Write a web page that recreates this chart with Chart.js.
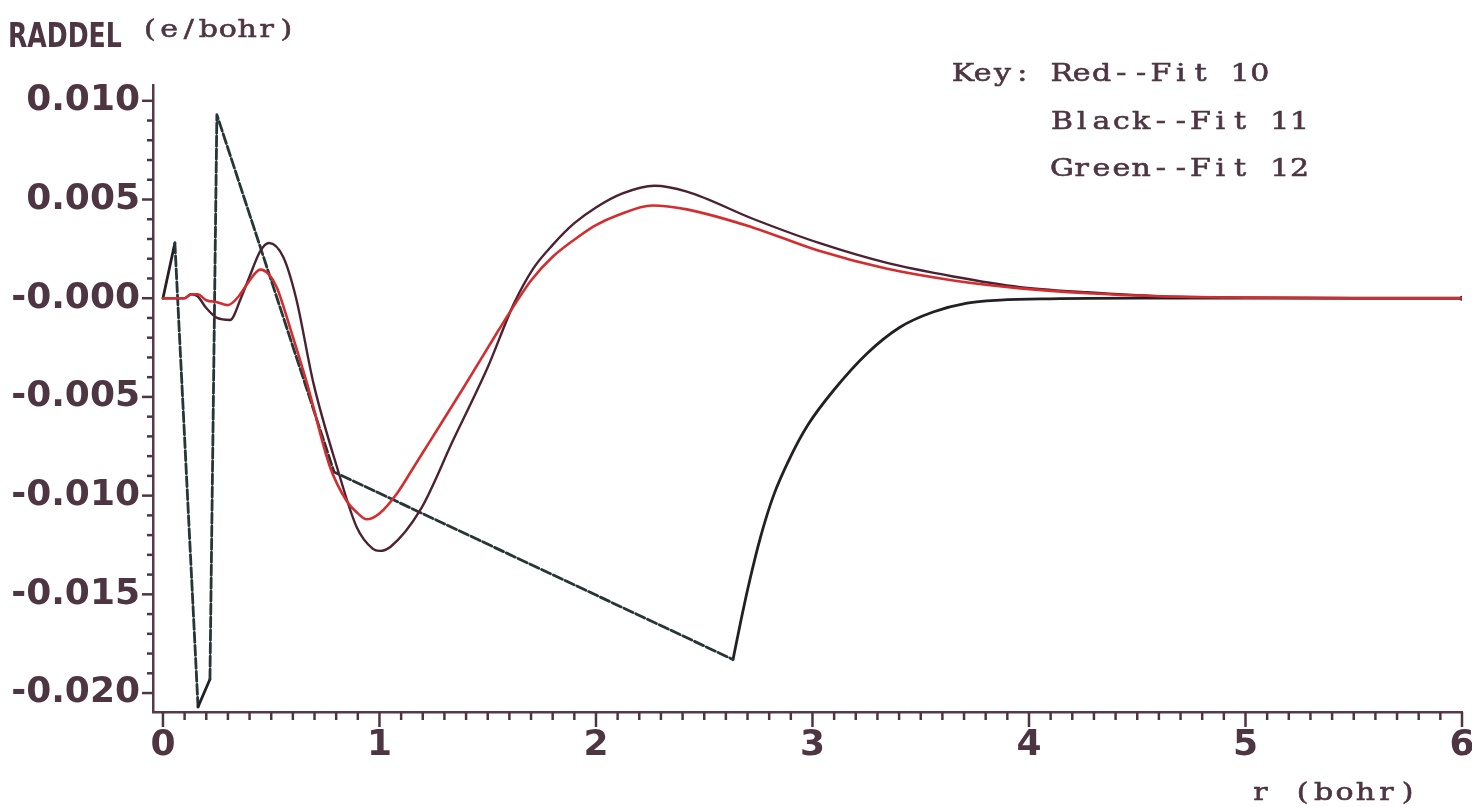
<!DOCTYPE html>
<html>
<head>
<meta charset="utf-8">
<title>RADDEL</title>
<script src="https://cdn.jsdelivr.net/npm/chart.js@4.4.1/dist/chart.umd.min.js"></script>
<style>
  html, body { margin: 0; padding: 0; background: #ffffff; }
  #wrap { width: 1472px; height: 807px; position: relative; }
  canvas { display: block; }
</style>
</head>
<body>
<div id="wrap"><canvas id="chart" width="1472" height="807"></canvas></div>
<script>
// Radial deformation density (RADDEL, e/bohr) versus r (bohr) for three fits.

// Fit 10 (red)
const rFit10 = [0, 0.05, 0.10, 0.13, 0.16, 0.20, 0.25, 0.30, 0.35, 0.39, 0.45, 0.49, 0.525, 0.59, 0.665,
  0.77, 0.85, 0.90, 0.94, 1.00, 1.08, 1.15, 1.23, 1.39, 1.54, 1.62, 1.70, 1.80, 1.93, 2.00, 2.10, 2.26, 2.42,
  2.72, 3.03, 3.34, 3.65, 3.96, 4.27, 4.60, 5.00, 5.50, 6.00];
const fit10 = [0, 0, 0, 0.0002, 0.0002, -0.0001, -0.0002, -0.00035, 0.0001, 0.00074, 0.00145, 0.0012, 0.00057,
  -0.0016, -0.0043, -0.0085, -0.0103, -0.0109, -0.0112, -0.0109, -0.0099, -0.0087, -0.0073, -0.0045, -0.0018,
  -0.0004, 0.0009, 0.0021, 0.0032, 0.0037, 0.0042, 0.0047, 0.0045, 0.0036, 0.0024, 0.0015, 0.0009, 0.0005,
  0.00025, 0.0001, 0.00003, 0, 0];

// Fit 11 (black)
const rFit11 = [0, 0.05, 0.10, 0.13, 0.16, 0.20, 0.25, 0.31, 0.36, 0.40, 0.45, 0.49, 0.555, 0.615, 0.695,
  0.805, 0.895, 0.97, 1.00, 1.05, 1.19, 1.34, 1.50, 1.62, 1.71, 1.80, 1.90, 2.00, 2.12, 2.27, 2.42, 2.73, 3.03,
  3.34, 3.65, 3.96, 4.27, 4.60, 5.00, 5.50, 6.00];
const fit11 = [0, 0, 0, 0.0002, 0.0001, -0.0005, -0.0010, -0.0011, 0.0000, 0.0011, 0.0024, 0.0028, 0.0021,
  0.0000, -0.0043, -0.0086, -0.0116, -0.0127, -0.0128, -0.0126, -0.0107, -0.0072, -0.0035, -0.0003, 0.0015,
  0.0027, 0.0038, 0.0046, 0.0053, 0.0057, 0.0054, 0.0040, 0.0028, 0.0018, 0.0011, 0.00056, 0.0003, 0.0001,
  0.00003, 0, 0];

// Fit 12 (green): coarse grid near the nucleus, finer grid in the outer tail
const rFit12 = [0, 0.055, 0.162, 0.217, 0.249, 0.79, 2.633];
const fit12 = [0, 0.0028, -0.0207, -0.0193, 0.0093, -0.0088, -0.0183];
const rFit12Tail = [2.633, 2.67, 2.71, 2.76, 2.82, 2.90, 2.98, 3.095, 3.252, 3.404, 3.557, 3.714, 3.866, 4.10,
  4.50, 5.00, 6.00];
const fit12Tail = [-0.0183, -0.0163, -0.0143, -0.0121, -0.0100, -0.0080, -0.0064, -0.0047, -0.0028, -0.00147,
  -0.0007, -0.00025, -0.0001, -0.00003, 0, 0, 0];

// Axis ticks
const xTicks = [0, 1, 2, 3, 4, 5, 6];
const yTicks = [-0.020, -0.015, -0.010, -0.005, 0.000, 0.005, 0.010];
const xMinorStep = 0.1;
const yMinorStep = 0.001;

const keyLines = ['Key: Red--Fit 10', '     Black--Fit 11', '     Green--Fit 12'];

const INK = '#4d3542';
const BOLD_FAMILY = "'DejaVu Sans', sans-serif";
const MONO_FAMILY = "'DejaVu Serif', serif";

const pts = (xs, ys) => xs.map((x, i) => ({ x: x, y: ys[i] }));

function longSeg(ctx) {
  return Math.hypot(ctx.p1.x - ctx.p0.x, ctx.p1.y - ctx.p0.y) > 200;
}

// typewriter-style fixed-pitch text, each glyph widened to fill its cell
function monoText(ctx, str, x, baseline, pitch, widen) {
  ctx.textAlign = 'center';
  ctx.textBaseline = 'alphabetic';
  ctx.lineWidth = 0.6;
  ctx.strokeStyle = ctx.fillStyle;
  for (let i = 0; i < str.length; i++) {
    if (str[i] === ' ') continue;
    ctx.save();
    ctx.translate(x + i * pitch + pitch / 2, baseline);
    ctx.scale(widen, 1);
    ctx.fillText(str[i], 0, 0);
    ctx.strokeText(str[i], 0, 0);
    ctx.restore();
  }
}

const axisDecor = {
  id: 'axisDecor',
  afterDraw(chart) {
    const ctx = chart.ctx;
    const xs = chart.scales.x, ys = chart.scales.y;
    const area = chart.chartArea;
    ctx.save();
    ctx.strokeStyle = INK;
    ctx.lineWidth = 2.5;
    ctx.lineCap = 'butt';
    // x ticks hang below the axis
    const xn = Math.round((xTicks[xTicks.length - 1] - xTicks[0]) / xMinorStep);
    for (let i = 0; i <= xn; i++) {
      const v = xTicks[0] + i * xMinorStep;
      const major = i % 10 === 0;
      const px = xs.getPixelForValue(v);
      ctx.beginPath();
      ctx.moveTo(px, area.bottom);
      ctx.lineTo(px, area.bottom + (major ? 15 : 8));
      ctx.stroke();
    }
    // y ticks point left of the axis
    const yn = Math.round((yTicks[yTicks.length - 1] - yTicks[0]) / yMinorStep);
    for (let i = 0; i <= yn; i++) {
      const v = yTicks[0] + i * yMinorStep;
      const major = i % 5 === 0;
      const py = ys.getPixelForValue(v);
      ctx.beginPath();
      ctx.moveTo(area.left, py);
      ctx.lineTo(area.left - (major ? 11 : 6), py);
      ctx.stroke();
    }
    // titles and key
    ctx.fillStyle = INK;
    ctx.save();
    ctx.font = 'bold 34px ' + BOLD_FAMILY;
    ctx.textAlign = 'left';
    ctx.textBaseline = 'alphabetic';
    ctx.translate(8, 47);
    ctx.scale(0.74, 1);
    ctx.fillText('RADDEL', 0, 0);
    ctx.restore();
    ctx.font = '25px ' + MONO_FAMILY;
    monoText(ctx, '(e/bohr)', 140, 37, 19.5, 1.2);
    keyLines.forEach((line, i) => monoText(ctx, line, 953, 81 + i * 47.5, 19.8, 1.2));
    monoText(ctx, 'r (bohr)', 1250, 800, 21, 1.2);
    ctx.restore();
  }
};

const labelFont = { family: BOLD_FAMILY, size: 36, weight: 'bold' };

new Chart(document.getElementById('chart'), {
  type: 'line',
  data: {
    datasets: [
      {
        label: 'Fit 10',
        data: pts(rFit10, fit10),
        borderColor: '#d42d2f',
        borderWidth: 2.6,
        cubicInterpolationMode: 'monotone',
        pointRadius: 0
      },
      {
        label: 'Fit 11',
        data: pts(rFit11, fit11),
        borderColor: '#4a2232',
        borderWidth: 2.4,
        cubicInterpolationMode: 'monotone',
        pointRadius: 0
      },
      {
        label: 'Fit 12',
        data: pts(rFit12, fit12),
        borderColor: '#231f22',
        borderWidth: 2.8,
        tension: 0,
        pointRadius: 0,
        segment: {
          borderDash: ctx => longSeg(ctx) ? [10, 3] : undefined,
          borderColor: ctx => longSeg(ctx) ? '#283536' : undefined
        }
      },
      {
        label: 'Fit 12 tail',
        data: pts(rFit12Tail, fit12Tail),
        borderColor: '#231f22',
        borderWidth: 2.8,
        cubicInterpolationMode: 'monotone',
        pointRadius: ctx => (ctx.dataIndex === rFit12Tail.length - 1 ? 2.5 : 0),
        pointBackgroundColor: '#231f22',
        pointBorderWidth: 0
      }
    ]
  },
  options: {
    responsive: false,
    devicePixelRatio: 1,
    animation: false,
    layout: { padding: { top: 85, right: 10, left: 0, bottom: 0 } },
    elements: { line: { borderJoinStyle: 'round', borderCapStyle: 'round', fill: false } },
    plugins: { legend: { display: false }, tooltip: { enabled: false } },
    scales: {
      x: {
        type: 'linear',
        min: -0.046,
        max: 6.0,
        afterFit: s => { s.height = 95; s.paddingLeft = 0; s.paddingRight = 0; },
        afterBuildTicks: s => { s.ticks = xTicks.map(v => ({ value: v })); },
        grid: { display: false, drawTicks: false },
        border: { display: true, color: '#58394a', width: 2.5 },
        ticks: {
          padding: 12,
          color: INK,
          font: labelFont,
          maxRotation: 0,
          autoSkip: false,
          callback: v => String(v)
        }
      },
      y: {
        type: 'linear',
        min: -0.02096,
        max: 0.0108,
        afterFit: s => { s.width = 153; s.paddingTop = 0; s.paddingBottom = 0; },
        afterBuildTicks: s => { s.ticks = yTicks.map(v => ({ value: v })); },
        grid: { display: false, drawTicks: false },
        border: { display: true, color: '#58394a', width: 2.5 },
        ticks: {
          padding: 13,
          color: INK,
          font: labelFont,
          autoSkip: false,
          callback: v => (Math.abs(v) < 1e-9 ? '-0.000' : v.toFixed(3))
        }
      }
    }
  },
  plugins: [axisDecor]
});
</script>
</body>
</html>
